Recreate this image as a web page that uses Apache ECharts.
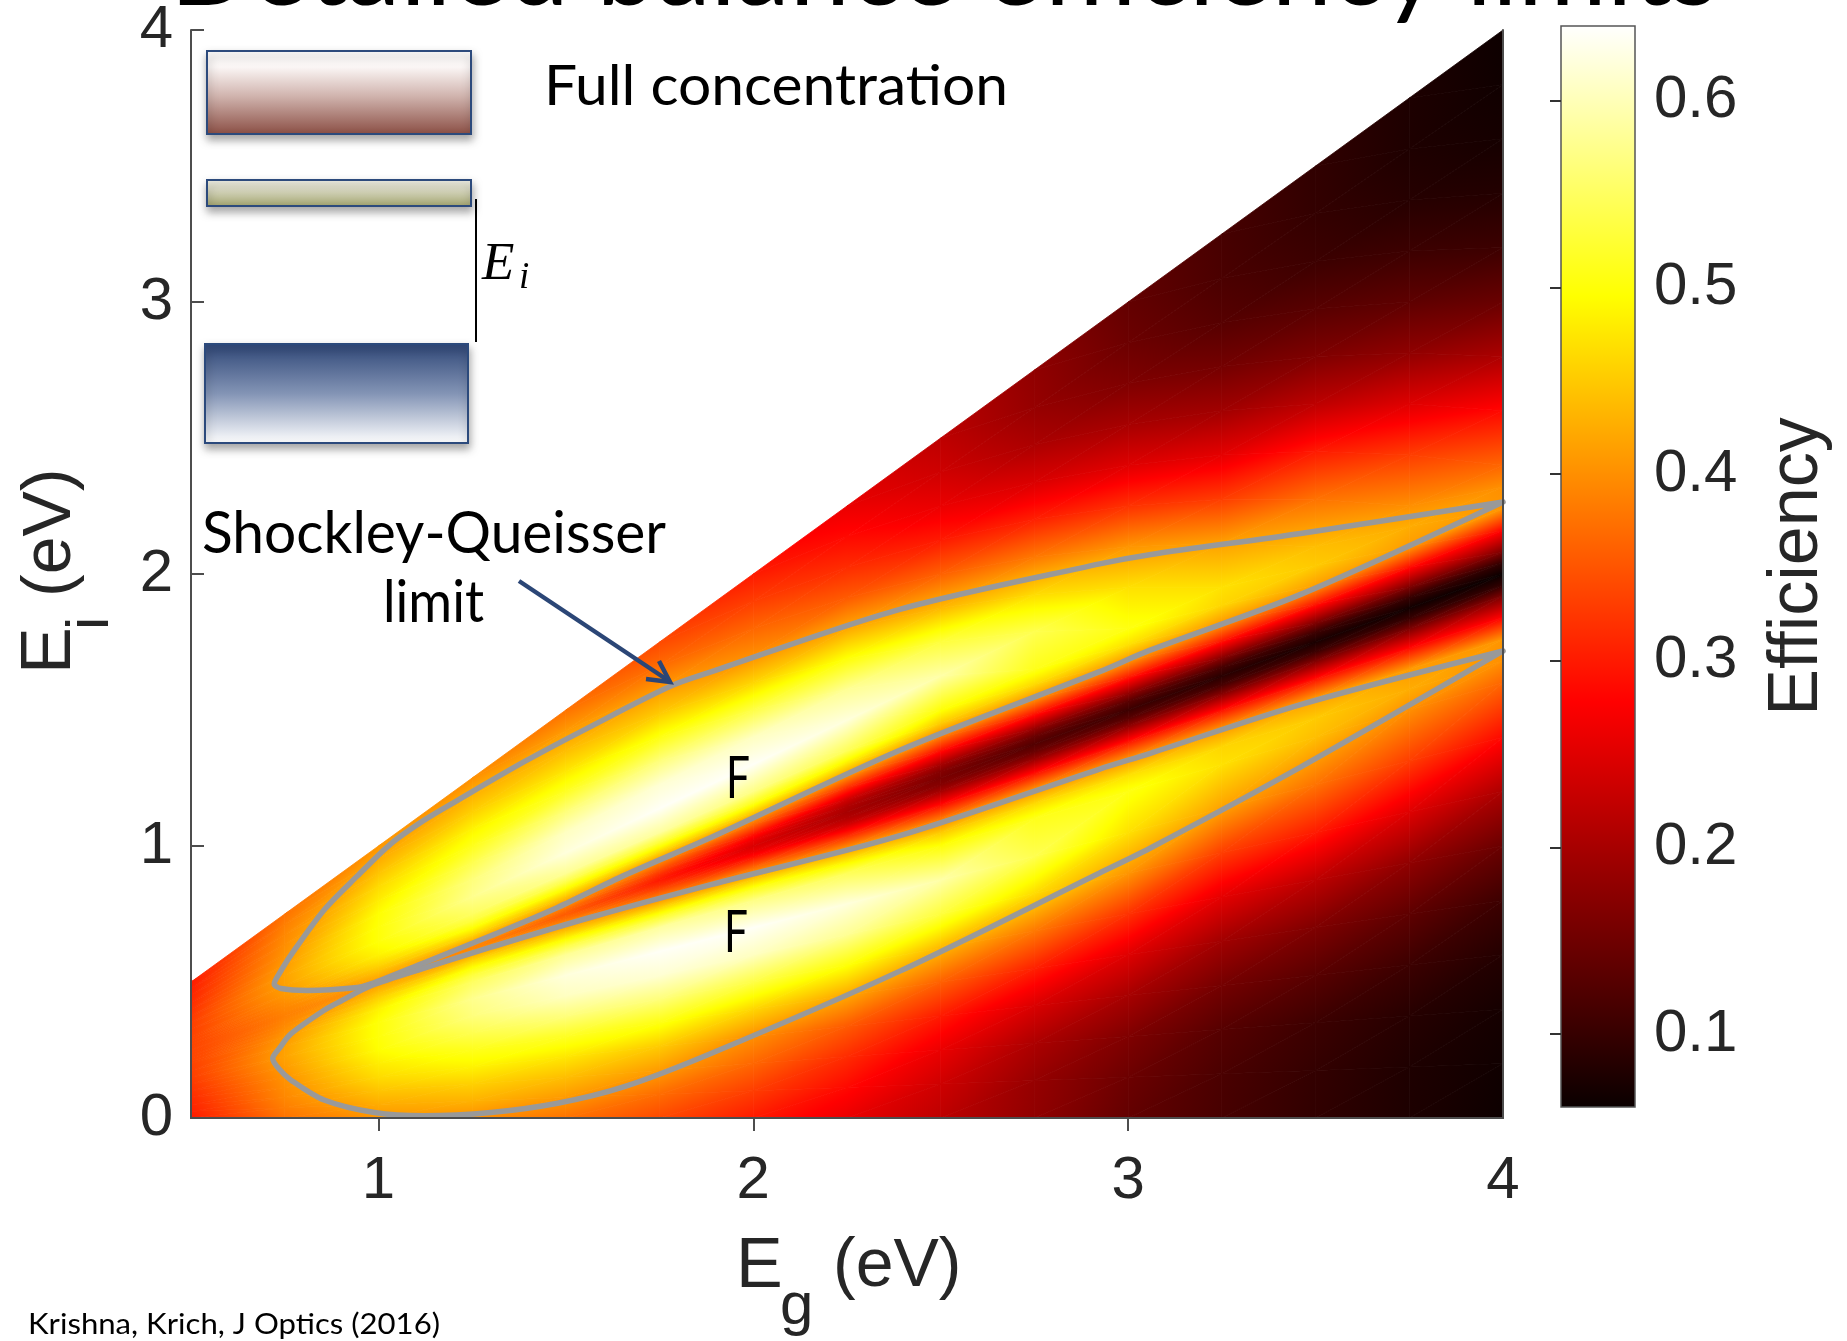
<!DOCTYPE html>
<html>
<head>
<meta charset="utf-8">
<title>Detailed balance efficiency limits</title>
<script src="https://cdn.jsdelivr.net/npm/echarts@6/dist/echarts.min.js"></script>
<style>
  html, body { margin: 0; padding: 0; background: #ffffff; }
  #chart { width: 1847px; height: 1341px; }
</style>
</head>
<body>
<div id="chart"></div>
<script>
// ---------------------------------------------------------------------------
// Data
// ---------------------------------------------------------------------------

// Band gap nodes (eV) of the efficiency table
const egNodes = [0.5, 0.75, 1.0, 1.25, 1.5, 1.75, 2.0, 2.25, 2.5, 2.75, 3.0, 3.25, 3.5, 3.75, 4.0];

// Smaller sub-gap as a fraction of Eg: min(Ei, Eg - Ei) / Eg.
// The two sub-gaps Ei and Eg - Ei are interchangeable, so each profile
// serves both the lower (Ei < Eg/2) and upper (Ei > Eg/2) halves.
const subgapFraction = [0, 0.05, 0.1, 0.15, 0.2, 0.25, 0.3, 0.35, 0.4, 0.42, 0.44, 0.46, 0.48, 0.49, 0.5];

// Efficiency profiles, one row per Eg node, sampled at subgapFraction
const eff050 = [0.300, 0.305, 0.310, 0.315, 0.320, 0.325, 0.330, 0.332, 0.334, 0.335, 0.335, 0.335, 0.335, 0.335, 0.335];
const eff075 = [0.375, 0.385, 0.393, 0.398, 0.403, 0.410, 0.416, 0.414, 0.407, 0.402, 0.397, 0.393, 0.390, 0.388, 0.387];
const eff100 = [0.405, 0.425, 0.445, 0.465, 0.480, 0.495, 0.500, 0.500, 0.485, 0.472, 0.458, 0.442, 0.425, 0.415, 0.407];
const eff125 = [0.400, 0.430, 0.455, 0.485, 0.510, 0.540, 0.565, 0.575, 0.550, 0.530, 0.500, 0.465, 0.425, 0.405, 0.390];
const eff150 = [0.375, 0.408, 0.440, 0.475, 0.515, 0.565, 0.605, 0.620, 0.580, 0.540, 0.490, 0.440, 0.395, 0.370, 0.355];
const eff175 = [0.340, 0.370, 0.410, 0.450, 0.505, 0.565, 0.615, 0.635, 0.585, 0.530, 0.465, 0.400, 0.340, 0.315, 0.300];
const eff200 = [0.300, 0.330, 0.365, 0.400, 0.460, 0.535, 0.605, 0.635, 0.570, 0.515, 0.445, 0.370, 0.290, 0.260, 0.245];
const eff225 = [0.260, 0.285, 0.315, 0.355, 0.420, 0.500, 0.580, 0.620, 0.545, 0.480, 0.408, 0.320, 0.235, 0.210, 0.200];
const eff250 = [0.220, 0.235, 0.260, 0.300, 0.360, 0.435, 0.530, 0.590, 0.500, 0.450, 0.380, 0.290, 0.200, 0.170, 0.160];
const eff275 = [0.180, 0.185, 0.205, 0.245, 0.305, 0.380, 0.465, 0.540, 0.510, 0.465, 0.400, 0.295, 0.185, 0.145, 0.125];
const eff300 = [0.140, 0.148, 0.165, 0.200, 0.250, 0.320, 0.405, 0.470, 0.505, 0.470, 0.405, 0.300, 0.180, 0.130, 0.105];
const eff325 = [0.115, 0.118, 0.128, 0.155, 0.195, 0.255, 0.330, 0.415, 0.470, 0.460, 0.408, 0.300, 0.170, 0.115, 0.088];
const eff350 = [0.095, 0.097, 0.105, 0.130, 0.165, 0.220, 0.300, 0.375, 0.440, 0.450, 0.415, 0.300, 0.165, 0.105, 0.075];
const eff375 = [0.078, 0.079, 0.086, 0.105, 0.135, 0.180, 0.250, 0.330, 0.400, 0.425, 0.410, 0.290, 0.160, 0.100, 0.068];
const eff400 = [0.064, 0.066, 0.071, 0.083, 0.105, 0.145, 0.205, 0.285, 0.365, 0.400, 0.405, 0.280, 0.160, 0.095, 0.062];
const efficiency = [eff050, eff075, eff100, eff125, eff150, eff175, eff200, eff225, eff250, eff275, eff300, eff325, eff350, eff375, eff400];

// Shockley-Queisser contour, upper lobe: outer edge from Eg = 4 to the tip, then inner edge back
const sqUpperLobe = [
  [4.0, 2.265], [3.46, 2.149], [3.057, 2.071], [2.924, 2.037], [2.391, 1.87], [1.887, 1.64],
  [1.78, 1.588], [1.567, 1.44], [1.389, 1.31], [1.211, 1.168], [1.122, 1.095], [1.033, 1.008],
  [0.944, 0.89], [0.855, 0.765], [0.767, 0.6], [0.735, 0.53], [0.722, 0.493],
  [0.74, 0.476], [0.811, 0.469], [0.944, 0.48], [0.98, 0.493], [1.122, 0.571], [1.3, 0.67],
  [1.478, 0.774], [1.656, 0.892], [1.887, 1.031], [2.391, 1.352], [2.924, 1.641], [3.057, 1.719],
  [3.46, 1.925], [4.0, 2.265]
];
// Shockley-Queisser contour, lower lobe: inner edge from Eg = 4 to the tip, then outer edge back
const sqLowerLobe = [
  [4.0, 1.717], [3.46, 1.52], [3.057, 1.34], [2.924, 1.283], [2.391, 1.038], [1.887, 0.858],
  [1.567, 0.738], [1.3, 0.628], [1.122, 0.551], [0.98, 0.486], [0.9, 0.43], [0.855, 0.396],
  [0.767, 0.31], [0.735, 0.255], [0.718, 0.219],
  [0.735, 0.18], [0.767, 0.139], [0.855, 0.066], [0.989, 0.02], [1.122, 0.008], [1.3, 0.02],
  [1.478, 0.054], [1.656, 0.115], [1.887, 0.237], [2.391, 0.54], [2.924, 0.901], [3.057, 0.991],
  [3.46, 1.29], [4.0, 1.717]
];

// Tick labels
const egTicks = [1, 2, 3, 4];
const eiTicks = [0, 1, 2, 3, 4];
const colorbarTicks = [0.1, 0.2, 0.3, 0.4, 0.5, 0.6];

// Colour scale limits of the efficiency map
const CMIN = 0.061, CMAX = 0.640;

// ---------------------------------------------------------------------------
// "hot" colour map
// ---------------------------------------------------------------------------
function hot(v) {
  let t = (v - CMIN) / (CMAX - CMIN);
  t = Math.max(0, Math.min(1, t));
  const r0 = 10 / 255;
  let r, g, b;
  if (t < 0.375) { r = r0 + (1 - r0) * t / 0.375; g = 0; b = 0; }
  else if (t < 0.75) { r = 1; g = (t - 0.375) / 0.375; b = 0; }
  else { r = 1; g = 1; b = (t - 0.75) / 0.25; }
  return 'rgb(' + Math.round(r * 255) + ',' + Math.round(g * 255) + ',' + Math.round(b * 255) + ')';
}
const HOT_BREAKS = [CMIN + 0.375 * (CMAX - CMIN), CMIN + 0.75 * (CMAX - CMIN)];

// One triangle of the map, shaded linearly between its three corner values
function shadedTriangle(p1, p2, p3) {
  const vals = [p1.v, p2.v, p3.v];
  const vlo = Math.min.apply(null, vals), vhi = Math.max.apply(null, vals);
  const e1x = p2.xy[0] - p1.xy[0], e1y = p2.xy[1] - p1.xy[1];
  const e2x = p3.xy[0] - p1.xy[0], e2y = p3.xy[1] - p1.xy[1];
  const det = e1x * e2y - e1y * e2x;
  let paint;
  if (vhi - vlo < 1e-6 || Math.abs(det) < 1e-9) {
    paint = hot((vlo + vhi) / 2);
  } else {
    const dv1 = p2.v - p1.v, dv2 = p3.v - p1.v;
    const gx = (dv1 * e2y - e1y * dv2) / det;
    const gy = (e1x * dv2 - dv1 * e2x) / det;
    const g2 = gx * gx + gy * gy;
    const sx = p1.xy[0] + (vlo - p1.v) * gx / g2, sy = p1.xy[1] + (vlo - p1.v) * gy / g2;
    const ex = p1.xy[0] + (vhi - p1.v) * gx / g2, ey = p1.xy[1] + (vhi - p1.v) * gy / g2;
    const stops = [{ offset: 0, color: hot(vlo) }];
    HOT_BREAKS.forEach(function (b) {
      if (b > vlo && b < vhi) stops.push({ offset: (b - vlo) / (vhi - vlo), color: hot(b) });
    });
    stops.push({ offset: 1, color: hot(vhi) });
    paint = new echarts.graphic.LinearGradient(sx, sy, ex, ey, stops, true);
  }
  return {
    type: 'polygon',
    shape: { points: [p1.xy, p2.xy, p3.xy] },
    style: { fill: paint, stroke: paint, lineWidth: 0.8 }
  };
}

// Cells of the map: [Eg node index, sub-gap node index, half (0 lower, 1 upper)]
const mapCells = [];
for (let i = 0; i < egNodes.length - 1; i++) {
  for (let j = 0; j < subgapFraction.length - 1; j++) {
    mapCells.push([i, j, 0]);
    mapCells.push([i, j, 1]);
  }
}

function renderMapCell(params, api) {
  const i = api.value(0), j = api.value(1), half = api.value(2);
  function corner(ci, cj) {
    const eg = egNodes[ci], s = subgapFraction[cj];
    const ei = half ? (1 - s) * eg : s * eg;
    return { xy: api.coord([eg, ei]), v: efficiency[ci][cj] };
  }
  const a = corner(i, j), b = corner(i + 1, j), c = corner(i + 1, j + 1), d = corner(i, j + 1);
  return { type: 'group', children: [shadedTriangle(a, b, c), shadedTriangle(a, c, d)] };
}

function renderColorbar(params, api) {
  const top = api.coord([0, CMAX]);
  const bottom = api.coord([1, CMIN]);
  const tAt = function (t) { return hot(CMIN + t * (CMAX - CMIN)); };
  return {
    type: 'rect',
    shape: { x: top[0], y: top[1], width: bottom[0] - top[0], height: bottom[1] - top[1] },
    style: {
      fill: new echarts.graphic.LinearGradient(0, 0, 0, 1, [
        { offset: 0, color: tAt(1) },
        { offset: 0.25, color: tAt(0.75) },
        { offset: 0.625, color: tAt(0.375) },
        { offset: 1, color: tAt(0) }
      ]),
      stroke: '#555555',
      lineWidth: 1.5
    }
  };
}

// ---------------------------------------------------------------------------
// Text helpers
// ---------------------------------------------------------------------------
const measureCtx = document.createElement('canvas').getContext('2d');
// distance from the em-box middle to the alphabetic baseline, per font
const MID_TO_BASE = { 'Lato': 0.36, 'Liberation Sans': 0.3465, 'Liberation Serif': 0.3375 };

function textWidth(str, family, size, style) {
  measureCtx.font = (style || 'normal') + ' ' + size + 'px "' + family + '"';
  return measureCtx.measureText(str).width;
}

// Text placed by its left edge and baseline, optionally squeezed to a given width
function slideText(str, family, size, left, baseline, width, extra) {
  const k = width ? width / textWidth(str, family, size, extra && extra.fontStyle) : 1;
  return {
    type: 'text',
    x: left,
    y: baseline - MID_TO_BASE[family] * size,
    scaleX: k,
    z: 100,
    silent: true,
    style: Object.assign({
      text: str,
      fontFamily: family,
      fontSize: size,
      fill: '#000000',
      textAlign: 'left',
      verticalAlign: 'middle',
      textVerticalAlign: 'middle'
    }, extra || {})
  };
}

// Text in a local frame (used inside groups)
function localText(str, family, size, lx, lbase, color, extra) {
  return {
    type: 'text',
    x: lx,
    y: lbase - MID_TO_BASE[family] * size,
    style: Object.assign({
      text: str, fontFamily: family, fontSize: size, fill: color,
      textAlign: 'left', verticalAlign: 'middle', textVerticalAlign: 'middle'
    }, extra || {})
  };
}

const AXIS_TEXT = '#262626';
const FRAME = '#4d4d4d';
const boxShadow = { shadowBlur: 8, shadowOffsetX: 1, shadowOffsetY: 5, shadowColor: 'rgba(0,0,0,0.35)' };

const graphics = [
  // slide title, mostly above the top edge
  slideText('Detailed balance efficiency limits', 'Lato', 104, 170, 9, 1548),

  // band diagram inset
  {
    type: 'rect', z: 100, silent: true,
    shape: { x: 207, y: 51, width: 264, height: 83 },
    style: Object.assign({
      fill: new echarts.graphic.LinearGradient(0, 0, 0, 1, [
        { offset: 0, color: '#ffffff' }, { offset: 0.2, color: '#fbf6f5' },
        { offset: 0.55, color: '#cfb2ac' }, { offset: 1, color: '#8a4d43' }
      ]),
      stroke: '#2c4a7c', lineWidth: 2
    }, boxShadow)
  },
  {
    type: 'rect', z: 100, silent: true,
    shape: { x: 207, y: 180, width: 264, height: 26 },
    style: Object.assign({
      fill: new echarts.graphic.LinearGradient(0, 0, 0, 1, [
        { offset: 0, color: '#f3f3ea' }, { offset: 0.35, color: '#dcdcc6' },
        { offset: 1, color: '#9ea06a' }
      ]),
      stroke: '#2c4a7c', lineWidth: 2
    }, boxShadow)
  },
  {
    type: 'rect', z: 100, silent: true,
    shape: { x: 205, y: 344, width: 263, height: 99 },
    style: Object.assign({
      fill: new echarts.graphic.LinearGradient(0, 0, 0, 1, [
        { offset: 0, color: '#2e4677' }, { offset: 0.5, color: '#8394b5' },
        { offset: 1, color: '#ffffff' }
      ]),
      stroke: '#2c4a7c', lineWidth: 2
    }, boxShadow)
  },
  {
    type: 'line', z: 100, silent: true,
    shape: { x1: 476, y1: 199, x2: 476, y2: 342 },
    style: { stroke: '#000000', lineWidth: 2 }
  },
  slideText('E', 'Liberation Serif', 53, 482, 283, null, { fontStyle: 'italic' }),
  slideText('i', 'Liberation Serif', 37, 519, 291, null, { fontStyle: 'italic' }),

  // annotations
  slideText('Full concentration', 'Lato', 56, 544, 107, 464),
  slideText('Shockley-Queisser', 'Lato', 58, 202, 555, 464),
  slideText('limit', 'Lato', 58, 383, 624, 101),
  slideText('F', 'Lato', 58, 726, 800, 24),
  slideText('F', 'Lato', 58, 724, 954, 24),
  {
    type: 'polyline', z: 100, silent: true,
    shape: { points: [[519, 581], [669, 681]] },
    style: { stroke: '#2b4676', lineWidth: 4.5, fill: null }
  },
  {
    type: 'polyline', z: 100, silent: true,
    shape: { points: [[646, 679], [670, 682], [659, 661]] },
    style: { stroke: '#2b4676', lineWidth: 4.5, fill: null, lineJoin: 'miter' }
  },

  // axis titles
  slideText('E', 'Liberation Sans', 70, 736, 1292, null, { fill: AXIS_TEXT }),
  slideText('g', 'Liberation Sans', 60, 780, 1328, null, { fill: AXIS_TEXT }),
  slideText('(eV)', 'Liberation Sans', 68, 833, 1291, null, { fill: AXIS_TEXT }),
  {
    type: 'group', x: 75, y: 674, rotation: Math.PI / 2, z: 100, silent: true,
    children: [
      localText('E', 'Liberation Sans', 70, 0, 0, AXIS_TEXT),
      localText('i', 'Liberation Sans', 60, 44, 37, AXIS_TEXT),
      localText('(eV)', 'Liberation Sans', 68, 77, 0, AXIS_TEXT)
    ]
  },

  // reference
  slideText('Krishna, Krich, J Optics (2016)', 'Lato', 28, 28, 1335, 412)
];

// ---------------------------------------------------------------------------
// Chart
// ---------------------------------------------------------------------------
const chart = echarts.init(document.getElementById('chart'), null, { renderer: 'canvas' });

const tickFont = { fontFamily: 'Liberation Sans', fontSize: 60, color: AXIS_TEXT };
const contourStyle = { color: '#999999', width: 5.5, cap: 'round', join: 'round' };

chart.setOption({
  animation: false,
  backgroundColor: '#ffffff',
  grid: [
    { left: 191, top: 26, width: 1312, height: 1092, containLabel: false },
    { left: 1561, top: 26, width: 74, height: 1081, containLabel: false }
  ],
  xAxis: [
    {
      gridIndex: 0, type: 'value', min: 0.5, max: 4, position: 'bottom', z: 5,
      axisLine: { show: true, lineStyle: { color: FRAME, width: 2 } },
      axisTick: { show: false },
      axisLabel: Object.assign({ customValues: egTicks, margin: 33 }, tickFont),
      splitLine: { show: false }
    },
    {
      gridIndex: 0, type: 'value', min: 0.5, max: 4, position: 'top', z: 5,
      axisLine: { show: true, lineStyle: { color: FRAME, width: 2 } },
      axisTick: { show: true, inside: true, length: 13, customValues: [1, 2, 3], lineStyle: { color: FRAME, width: 2 } },
      axisLabel: { show: false },
      splitLine: { show: false }
    },
    { gridIndex: 1, type: 'value', min: 0, max: 1, show: false }
  ],
  yAxis: [
    {
      gridIndex: 0, type: 'value', min: 0, max: 4, interval: 1, position: 'left', z: 5,
      axisLine: { show: true, lineStyle: { color: FRAME, width: 2 } },
      axisTick: { show: true, inside: true, length: 13, customValues: [1, 2, 3, 4], lineStyle: { color: FRAME, width: 2 } },
      axisLabel: Object.assign({ customValues: eiTicks, margin: 18 }, tickFont),
      splitLine: { show: false }
    },
    {
      gridIndex: 0, type: 'value', min: 0, max: 4, position: 'right', z: 5,
      axisLine: { show: true, lineStyle: { color: FRAME, width: 2 } },
      axisTick: { show: false },
      axisLabel: { show: false },
      splitLine: { show: false }
    },
    {
      gridIndex: 1, type: 'value', min: CMIN, max: CMAX, position: 'right', z: 5,
      name: 'Efficiency', nameLocation: 'middle', nameRotate: 90, nameGap: 128,
      nameTextStyle: { fontFamily: 'Liberation Sans', fontSize: 70, color: AXIS_TEXT },
      axisLine: { show: false },
      axisTick: { show: true, inside: true, length: 11, customValues: colorbarTicks, lineStyle: { color: '#333333', width: 2 } },
      axisLabel: Object.assign({
        customValues: colorbarTicks, margin: 19,
        formatter: function (v) { return v.toFixed(1); }
      }, tickFont),
      splitLine: { show: false }
    }
  ],
  series: [
    {
      name: 'efficiency map', type: 'custom', coordinateSystem: 'cartesian2d',
      xAxisIndex: 0, yAxisIndex: 0, silent: true, z: 2,
      renderItem: renderMapCell, data: mapCells
    },
    {
      name: 'SQ limit (upper)', type: 'line', xAxisIndex: 0, yAxisIndex: 0, z: 3, silent: true,
      data: sqUpperLobe, showSymbol: false, smooth: 0.3, lineStyle: contourStyle
    },
    {
      name: 'SQ limit (lower)', type: 'line', xAxisIndex: 0, yAxisIndex: 0, z: 3, silent: true,
      data: sqLowerLobe, showSymbol: false, smooth: 0.3, lineStyle: contourStyle
    },
    {
      name: 'colorbar', type: 'custom', coordinateSystem: 'cartesian2d',
      xAxisIndex: 2, yAxisIndex: 2, silent: true, z: 2,
      renderItem: renderColorbar, data: [[0, CMIN]]
    }
  ],
  graphic: graphics
});
</script>
</body>
</html>
